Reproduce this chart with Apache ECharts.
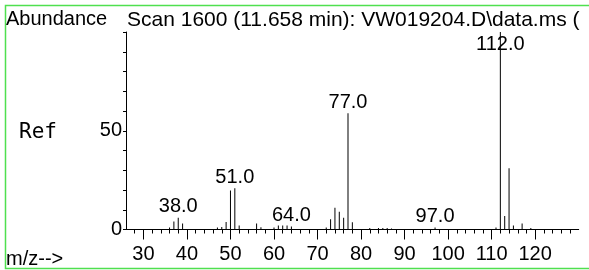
<!DOCTYPE html>
<html>
<head>
<meta charset="utf-8">
<script src="https://cdn.jsdelivr.net/npm/echarts@6/dist/echarts.min.js"></script>
<style>
  html, body { margin: 0; padding: 0; background: #fff; }
  #chart { width: 589px; height: 270px; }
</style>
</head>
<body>
<div id="chart"></div>
<script>
// ---- spectrum data ----
const mzValues = [36, 37, 38, 39, 47, 48, 49, 50, 51, 52, 56, 57, 60, 61, 62, 63, 64,
  72, 73, 74, 75, 76, 77, 78, 82, 84, 85, 86, 87, 97, 111, 112, 113, 114, 115, 117, 119];
const abundance = [1, 4, 6, 3, 1, 1.3, 3.8, 19.8, 20.9, 2, 3, 1.2, 1, 2, 2, 2, 1.5,
  1, 5.2, 11, 9, 6, 58.8, 3.7, 0.7, 0.7, 0.7, 0.7, 0.5, 1, 1, 100, 6.8, 31, 2, 3, 0.8];
const labelledMz = [38, 51, 64, 77, 97, 112];

// ---- axis ticks ----
const xMajorTicks = [30, 40, 50, 60, 70, 80, 90, 100, 110, 120];
const xMinorTicks = [28, 30, 32, 34, 36, 38, 40, 42, 44, 46, 48, 50, 52, 54, 56, 58, 60,
  62, 64, 66, 68, 70, 72, 74, 76, 78, 80, 82, 84, 86, 88, 90, 92, 94, 96, 98, 100,
  102, 104, 106, 108, 110, 112, 114, 116, 118, 120, 122, 124, 126, 128];
const yLabels = [0, 50];

const FONT = "'Liberation Sans', Arial, sans-serif";

const chart = echarts.init(document.getElementById("chart"));

// 顶上被截断的峰把标签放在柱子里面
const barData = mzValues.map((mz, i) => {
  const item = { value: [mz, abundance[i]] };
  if (labelledMz.includes(mz)) {
    item.label = {
      show: true,
      position: abundance[i] > 90 ? "insideTop" : "top",
      distance: abundance[i] > 90 ? 2 : 1,
      formatter: mz.toFixed(1),
      color: "#000",
      fontFamily: FONT,
      fontSize: 20,
    };
  }
  return item;
});

const option = {
  animation: false,
  backgroundColor: "#fff",
  grid: { left: 126, right: 10.3, top: 32, bottom: 40.5, containLabel: false },
  xAxis: [
    {
      type: "value",
      position: "bottom",
      min: 26,
      max: 130,
      axisLine: { show: true, lineStyle: { color: "#000", width: 1 } },
      axisTick: { show: true, customValues: xMajorTicks, length: 10, lineStyle: { color: "#000" } },
      axisLabel: { customValues: xMajorTicks, margin: 15, color: "#000", fontFamily: FONT, fontSize: 20 },
      splitLine: { show: false },
    },
    {
      type: "value",
      position: "bottom",
      min: 26,
      max: 130,
      axisLine: { show: false },
      axisTick: { show: true, customValues: xMinorTicks, length: 4, lineStyle: { color: "#000" } },
      axisLabel: { show: false },
      splitLine: { show: false },
    },
  ],
  yAxis: {
    type: "value",
    min: 0,
    max: 100,
    interval: 10,
    axisLine: { show: true, lineStyle: { color: "#000", width: 1 } },
    axisTick: { show: true, length: 3, lineStyle: { color: "#000" } },
    axisLabel: { customValues: yLabels, margin: 4, color: "#000", fontFamily: FONT, fontSize: 20 },
    splitLine: { show: false },
  },
  series: [
    {
      type: "bar",
      xAxisIndex: 0,
      barWidth: 1,
      itemStyle: { color: "#000" },
      data: barData,
    },
  ],
  graphic: [
    {
      type: "rect",
      shape: { x: 5.5, y: 5.5, width: 620, height: 263 },
      style: { fill: "none", stroke: "#4fe04f", lineWidth: 1.5 },
      silent: true,
    },
    {
      type: "text",
      x: 6,
      y: 19,
      style: { text: "Abundance", fill: "#000", font: "20px " + FONT, verticalAlign: "middle" },
    },
    {
      type: "text",
      x: 127,
      y: 20,
      style: { text: "Scan 1600 (11.658 min): VW019204.D\\data.ms (", fill: "#000", font: "21px " + FONT, verticalAlign: "middle" },
    },
    {
      type: "text",
      x: 19,
      y: 133,
      style: { text: "Ref", fill: "#000", font: "21px 'DejaVu Sans Mono', monospace", verticalAlign: "middle" },
    },
    {
      type: "text",
      x: 6,
      y: 259,
      style: { text: "m/z-->", fill: "#000", font: "20px " + FONT, verticalAlign: "middle" },
    },
  ],
};

chart.setOption(option);
</script>
</body>
</html>
